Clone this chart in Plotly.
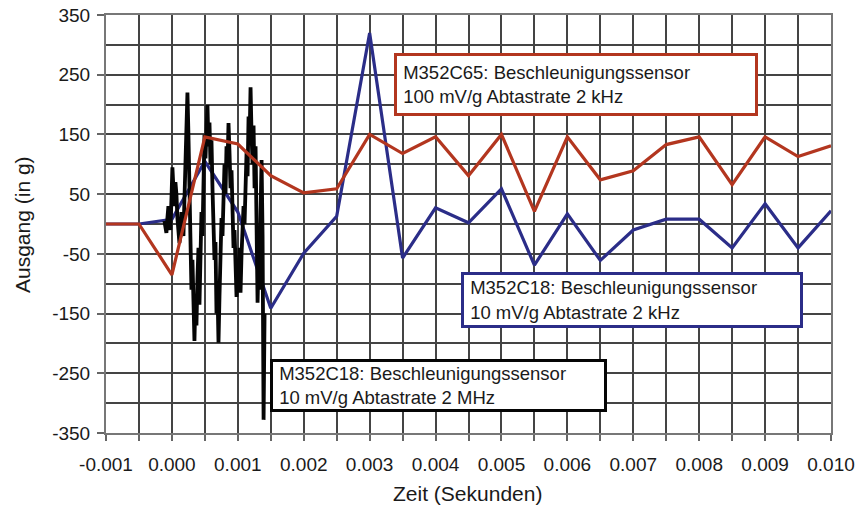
import plotly.graph_objects as go

# ---- data ----
t_2khz = [-0.001, -0.0005, 0.0, 0.0005, 0.001, 0.0015, 0.002, 0.0025, 0.003, 0.0035,
          0.004, 0.0045, 0.005, 0.0055, 0.006, 0.0065, 0.007, 0.0075, 0.008, 0.0085,
          0.009, 0.0095, 0.010]
red_m352c65 = [0, 0, -85, 146, 134, 81, 52, 59, 150, 118,
               146, 81, 150, 21, 146, 74, 89, 133, 146, 66,
               146, 113, 131]
blue_m352c18 = [0, 0, 8, 105, 20, -141, -49, 13, 320, -57,
                27, 2, 59, -69, 17, -61, -10, 8, 8, -40,
                34, -40, 22]

# 2 MHz trace (one reading per ~15 microseconds)
t_2mhz_start = -0.000114
t_2mhz_step = 0.0000152
black_m352c18 = [5, -10, -15, 10, 30, 0, -10, 40, 95, 60,
                 30, 70, 50, 10, -10, -32, -20, 20, -5, -20,
                 40, 120, 180, 220, 150, 60, -40, -110, -60, -160,
                 -196, -120, -170, -90, -40, -135, -60, 20, -20, 80,
                 150, 110, 190, 199, 130, 170, 100, 140, 60, 0,
                 -60, -30, -150, -110, -199, -120, -70, 10, -20, 60,
                 100, 50, 130, 100, 169, 120, 60, 90, 20, -40,
                 -10, -80, -122, -60, -100, -40, -115, -50, -10, 30,
                 0, 70, 120, 80, 180, 140, 229, 150, 100, 165,
                 60, 130, -40, -132, -60, -110, 20, 107, -20, -328,
                 -150]
t_2mhz = [t_2mhz_start + i * t_2mhz_step for i in range(len(black_m352c18))]

x_tickvals = [-0.001, 0.0, 0.001, 0.002, 0.003, 0.004, 0.005, 0.006, 0.007, 0.008, 0.009, 0.010]
x_ticktext = ["-0.001", "0.000", "0.001", "0.002", "0.003", "0.004", "0.005", "0.006",
              "0.007", "0.008", "0.009", "0.010"]
y_tickvals = [-350, -250, -150, -50, 50, 150, 250, 350]
y_ticktext = ["-350", "-250", "-150", "-50", "50", "150", "250", "350"]

label_red = ["M352C65: Beschleunigungssensor", "100 mV/g Abtastrate 2 kHz"]
label_blue = ["M352C18: Beschleunigungssensor", "10 mV/g Abtastrate 2 kHz"]
label_black = ["M352C18: Beschleunigungssensor", "10 mV/g Abtastrate 2 MHz"]

RED = "#b3361f"
BLUE = "#2b2d88"
BLACK = "#050505"
FONT = "Liberation Sans, Arial, sans-serif"

fig = go.Figure()
fig.add_trace(go.Scatter(x=t_2khz, y=blue_m352c18, mode="lines",
                         line=dict(color=BLUE, width=3.2), showlegend=False))
fig.add_trace(go.Scatter(x=t_2mhz, y=black_m352c18, mode="lines",
                         line=dict(color=BLACK, width=3.8), showlegend=False))
fig.add_trace(go.Scatter(x=t_2khz, y=red_m352c65, mode="lines",
                         line=dict(color=RED, width=3.2), showlegend=False))

L, R, T, B = 106, 24, 15, 77
W, H = 855, 510
pw, ph = W - L - R, H - T - B


def px(xp):
    return (xp - L) / pw


def py(yp):
    return (H - B - yp) / ph


def box(lines, left, top, w, h, color):
    pad = "\u00a0"
    text = "<br>".join(pad + s for s in lines)
    return dict(text=text, xref="paper", yref="paper", x=px(left), y=py(top),
                xanchor="left", yanchor="top", showarrow=False, align="left",
                width=w, height=h, bgcolor="white", bordercolor=color,
                borderwidth=3, borderpad=1,
                font=dict(family=FONT, size=18.5, color="#1a1a1a"))


annotations = [
    box(label_red, 394, 53, 356, 55, RED),
    box(label_blue, 461, 272, 334, 48, BLUE),
    box(label_black, 270, 359, 329, 45, BLACK),
    dict(text="Zeit (Sekunden)", xref="paper", yref="paper", x=px(467), y=py(494),
         xanchor="center", yanchor="middle", showarrow=False,
         font=dict(family=FONT, size=21, color="#1a1a1a")),
    dict(text="Ausgang (in g)", xref="paper", yref="paper", x=px(22), y=py(225),
         xanchor="center", yanchor="middle", showarrow=False, textangle=-90,
         font=dict(family=FONT, size=21, color="#1a1a1a")),
]

GRID = "#444444"
fig.update_layout(
    width=W, height=H,
    margin=dict(l=L, r=R, t=T, b=B, autoexpand=False),
    paper_bgcolor="white", plot_bgcolor="white",
    font=dict(family=FONT, size=19, color="#1a1a1a"),
    annotations=annotations,
    xaxis=dict(range=[-0.001, 0.010], tickvals=x_tickvals, ticktext=x_ticktext,
               automargin=False, ticklabelstandoff=7,
               showgrid=True, gridcolor=GRID, gridwidth=1.5,
               minor=dict(dtick=0.0005, tick0=-0.001, showgrid=True, gridcolor=GRID,
                          gridwidth=1.5, ticks="outside", ticklen=6, tickcolor="#666"),
               ticks="outside", ticklen=6, tickcolor="#666", tickwidth=1.5,
               showline=True, linecolor="#777", linewidth=2, mirror=True,
               zeroline=False, tickfont=dict(size=19)),
    yaxis=dict(range=[-350, 350], tickvals=y_tickvals, ticktext=y_ticktext,
               automargin=False, ticklabelstandoff=3,
               showgrid=True, gridcolor=GRID, gridwidth=1.5,
               minor=dict(dtick=50, tick0=0, showgrid=True, gridcolor=GRID, gridwidth=1.5),
               ticks="outside", ticklen=7, tickcolor="#666", tickwidth=1.5,
               showline=True, linecolor="#777", linewidth=2, mirror=True,
               zeroline=False, tickfont=dict(size=19)),
)

fig.write_html("out.html", config={"displayModeBar": False},
               post_script="document.body.style.margin='0';document.body.style.padding='0';")
